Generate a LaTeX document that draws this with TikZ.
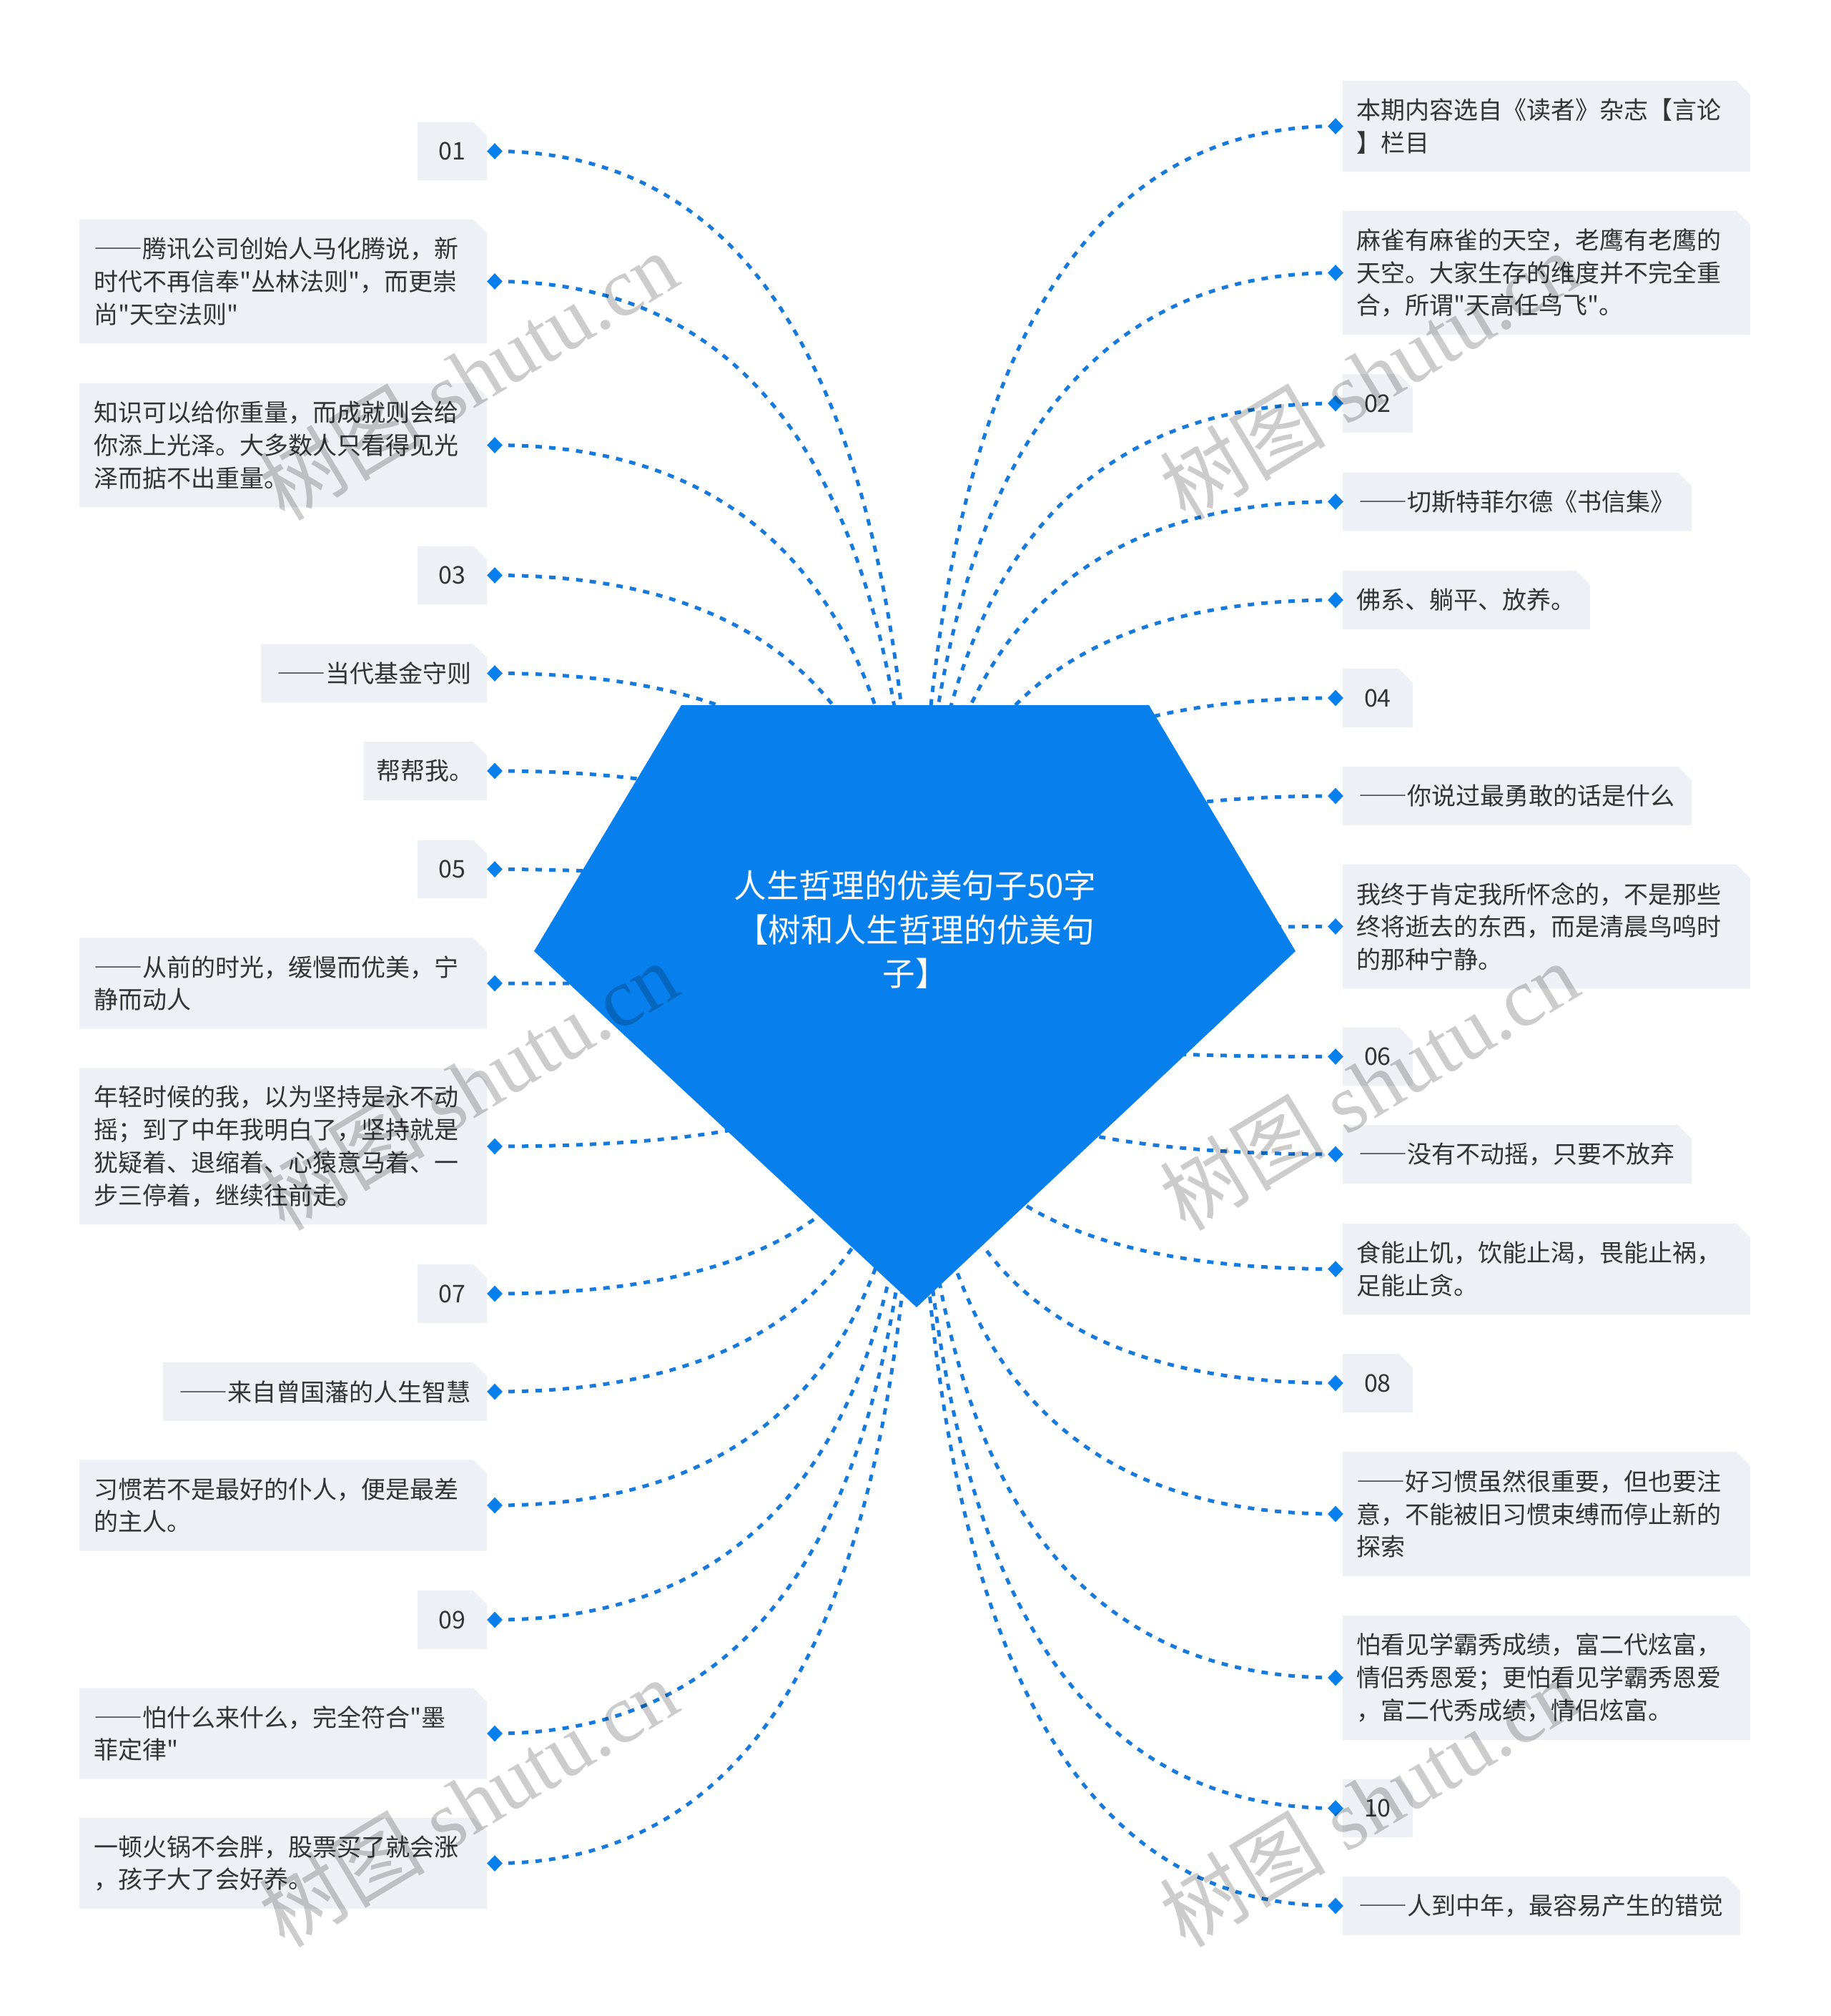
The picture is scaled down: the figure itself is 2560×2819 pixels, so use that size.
\documentclass[tikz,border=0pt]{standalone}
\usepackage{fontspec}
\setmainfont{Noto Sans CJK SC}[Ligatures=TeXOff]
\newfontfamily\fwfont{Noto Sans CJK SC}[CharacterWidth=Full]
\newfontfamily\wmlatin{Liberation Serif}
\usetikzlibrary{shapes.geometric,calc,backgrounds}

\definecolor{gemblue}{HTML}{0780EE}
\definecolor{linkblue}{HTML}{1579DD}
\definecolor{boxgray}{HTML}{EDF0F4}
\definecolor{inkgray}{HTML}{333333}

\newcommand{\dd}{{\fwfont ——}}

\tikzset{
  leaf/.style={font=\fontsize{17}{22.85}\selectfont, text=inkgray, inner sep=0pt, align=center},
  lleaf/.style={leaf, anchor=east},
  rleaf/.style={leaf, anchor=west},
  para/.style={text width=265pt, align=left, minimum width=284.5pt},
  ln1/.style={minimum height=40.5pt},
  ln2/.style={minimum height=63.25pt},
  ln3/.style={minimum height=86.5pt},
  ln4/.style={minimum height=109pt},
  mk/.style={diamond, fill=gemblue, inner sep=0pt, minimum width=11pt, minimum height=11.5pt},
  link/.style={linkblue, line width=2.5pt, dash pattern=on 4.5pt off 5pt},
  hub/.style={font=\fontsize{22.8}{30.75}\selectfont, text=white, align=center, inner sep=0pt},
  wm/.style={font=\fontsize{58}{58}\selectfont, text=black, opacity=.2, rotate=31}
}

\begin{document}
\begin{tikzpicture}[x=0.5pt, y=-0.5pt]
  \useasboundingbox (0,0) rectangle (2560,2819);

  % left leaves
  \node[lleaf, ln1, minimum width=48pt] (l1) at (681,211.5) {01};
  \node[lleaf, para, ln3] (l2) at (681,393.5) {\dd 腾讯公司创始人马化腾说，新\\时代不再信奉"丛林法则"，而更崇\\尚"天空法则"};
  \node[lleaf, para, ln3] (l3) at (681,622.5) {知识可以给你重量，而成就则会给\\你添上光泽。大多数人只看得见光\\泽而掂不出重量。};
  \node[lleaf, ln1, minimum width=48pt] (l4) at (681,804.5) {03};
  \node[lleaf, ln1, minimum width=157.5pt] (l5) at (681,941.5) {\dd 当代基金守则};
  \node[lleaf, ln1, minimum width=85.75pt] (l6) at (681,1078) {帮帮我。};
  \node[lleaf, ln1, minimum width=48pt] (l7) at (681,1215.5) {05};
  \node[lleaf, para, ln2] (l8) at (681,1375) {\dd 从前的时光，缓慢而优美，宁\\静而动人};
  \node[lleaf, para, ln4] (l9) at (681,1603) {年轻时候的我，以为坚持是永不动\\摇；到了中年我明白了，坚持就是\\犹疑着、退缩着、心猿意马着、一\\步三停着，继续往前走。};
  \node[lleaf, ln1, minimum width=48pt] (l10) at (681,1809) {07};
  \node[lleaf, ln1, minimum width=226pt] (l11) at (681,1946) {\dd 来自曾国藩的人生智慧};
  \node[lleaf, para, ln2] (l12) at (681,2105) {习惯若不是最好的仆人，便是最差\\的主人。};
  \node[lleaf, ln1, minimum width=48pt] (l13) at (681,2265) {09};
  \node[lleaf, para, ln2] (l14) at (681,2424) {\dd 怕什么来什么，完全符合"墨\\菲定律"};
  \node[lleaf, para, ln2] (l15) at (681,2605.5) {一顿火锅不会胖，股票买了就会涨\\，孩子大了会好养。};

  % right leaves
  \node[rleaf, para, ln2] (r1) at (1878,176.5) {本期内容选自《读者》杂志【言论\\】栏目};
  \node[rleaf, para, ln3] (r2) at (1878,381.5) {麻雀有麻雀的天空，老鹰有老鹰的\\天空。大家生存的维度并不完全重\\合，所谓"天高任鸟飞"。};
  \node[rleaf, ln1, minimum width=48.5pt] (r3) at (1878,564) {02};
  \node[rleaf, ln1, minimum width=243.5pt] (r4) at (1878,701.5) {\dd 切斯特菲尔德《书信集》};
  \node[rleaf, ln1, minimum width=172.5pt] (r5) at (1878,839) {佛系、躺平、放养。};
  \node[rleaf, ln1, minimum width=48.5pt] (r6) at (1878,976) {04};
  \node[rleaf, ln1, minimum width=243.5pt] (r7) at (1878,1113) {\dd 你说过最勇敢的话是什么};
  \node[rleaf, para, ln3] (r8) at (1878,1295.5) {我终于肯定我所怀念的，不是那些\\终将逝去的东西，而是清晨鸟鸣时\\的那种宁静。};
  \node[rleaf, ln1, minimum width=48.5pt] (r9) at (1878,1477.5) {06};
  \node[rleaf, ln1, minimum width=243.5pt] (r10) at (1878,1614) {\dd 没有不动摇，只要不放弃};
  \node[rleaf, para, ln2] (r11) at (1878,1774.5) {食能止饥，饮能止渴，畏能止祸，\\足能止贪。};
  \node[rleaf, ln1, minimum width=48.5pt] (r12) at (1878,1934) {08};
  \node[rleaf, para, ln3] (r13) at (1878,2117) {\dd 好习惯虽然很重要，但也要注\\意，不能被旧习惯束缚而停止新的\\探索};
  \node[rleaf, para, ln3] (r14) at (1878,2346) {怕看见学霸秀成绩，富二代炫富，\\情侣秀恩爱；更怕看见学霸秀恩爱\\，富二代秀成绩，情侣炫富。};
  \node[rleaf, ln1, minimum width=48.5pt] (r15) at (1878,2528.5) {10};
  \node[rleaf, ln1, minimum width=277.5pt] (r16) at (1878,2665) {\dd 人到中年，最容易产生的错觉};

  % markers
  \foreach \i in {1,...,15}
    \node[mk] (lm\i) at ([xshift=5.5pt]l\i.east) {};
  \foreach \i in {1,...,16}
    \node[mk] (rm\i) at ([xshift=-5pt]r\i.west) {};

  \coordinate (ctr) at (1282,1400);

  \begin{scope}[on background layer]
    % leaf boxes with cut corner
    \foreach \n in {l1,l2,l3,l4,l5,l6,l7,l8,l9,l10,l11,l12,l13,l14,l15,
                    r1,r2,r3,r4,r5,r6,r7,r8,r9,r10,r11,r12,r13,r14,r15,r16}
      \fill[boxgray] (\n.south west) -- (\n.north west) -- ([xshift=-9.5pt]\n.north east)
        -- ([yshift=-9.5pt]\n.north east) -- (\n.south east) -- cycle;
    % links
    \foreach \m in {lm1,lm2,lm3,lm4,lm5,lm6,lm7,lm8,lm9,lm10,lm11,lm12,lm13,lm14,lm15,
                    rm1,rm2,rm3,rm4,rm5,rm6,rm7,rm8,rm9,rm10,rm11,rm12,rm13,rm14,rm15,rm16}
      \draw[link] (\m.center) .. controls ($(\m)!.67!(ctr |- \m)$) and ($(ctr)!.67!(ctr |- \m)$) .. (ctr);
  \end{scope}

  % central gem
  \fill[gemblue] (953,986) -- (1607,986) -- (1812,1330) -- (1282,1828) -- (747,1330) -- cycle;
  \node[hub] (hub) at (1280,1300) {人生哲理的优美句子50字\\【树和人生哲理的优美句\\子】};

  % watermark
  \foreach \x in {655,1915}
    \foreach \y in {525,1518,2520}
      \node[wm] (wm\x\y) at (\x,\y) {树图\hspace{.25em}{\wmlatin shutu.cn}};
\end{tikzpicture}
\end{document}
